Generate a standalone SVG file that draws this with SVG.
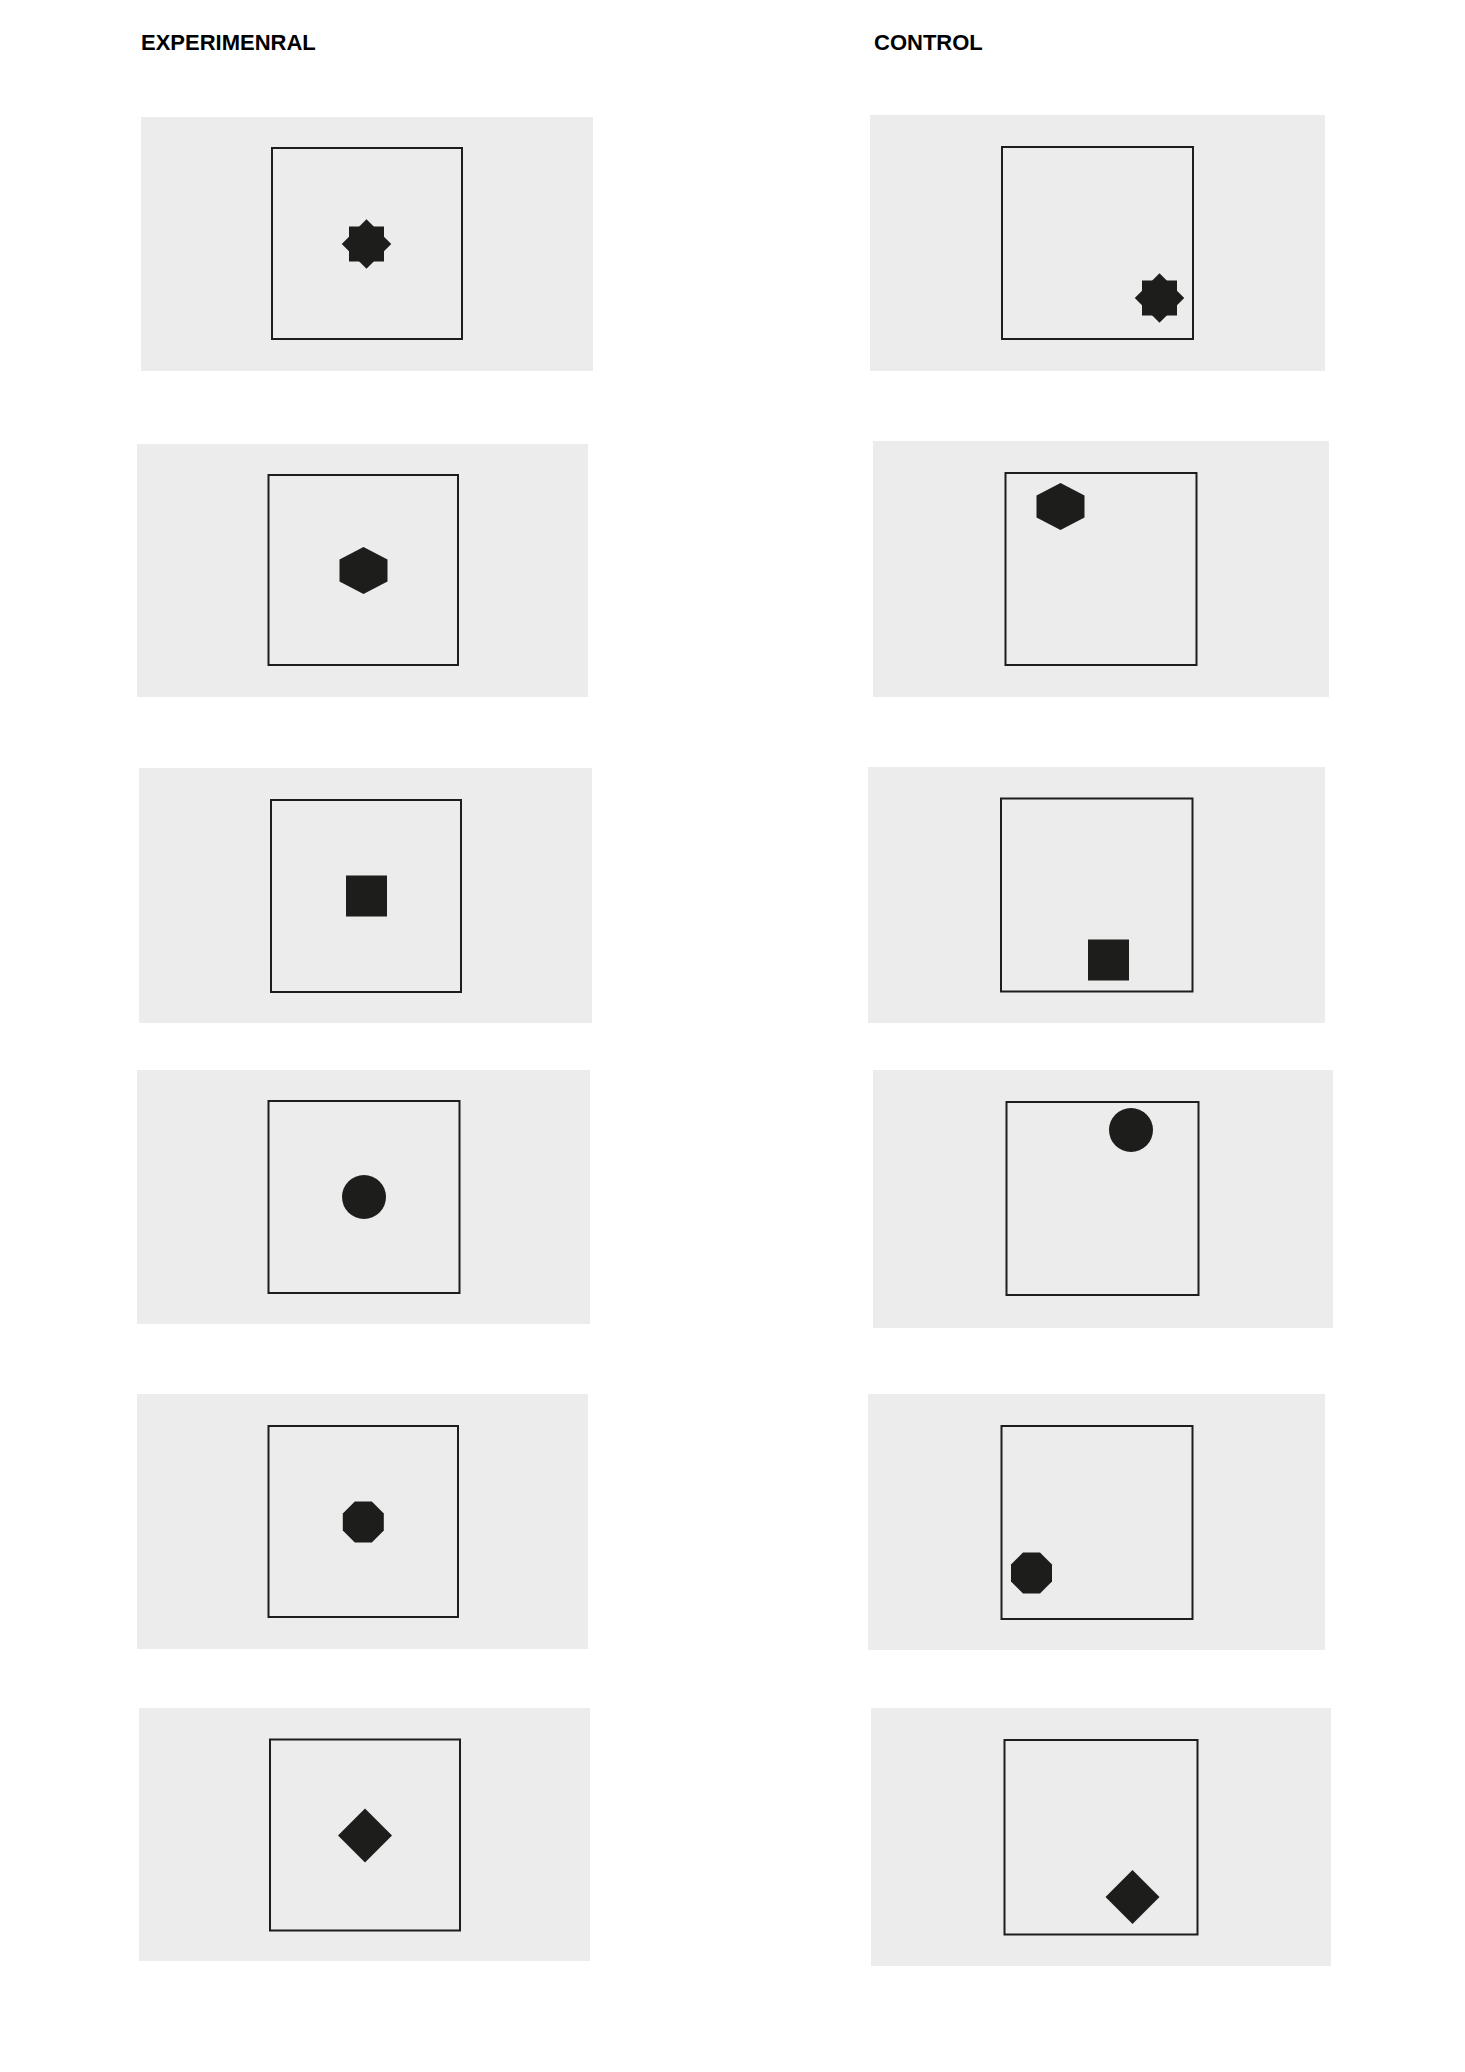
<svg xmlns="http://www.w3.org/2000/svg" xmlns:xlink="http://www.w3.org/1999/xlink" width="1465" height="2072" viewBox="0 0 1465 2072">
<style>
.bg{fill:#ececec;stroke:none}
.frame{fill:none;stroke:#1d1d1b;stroke-width:2}
.mark{fill:#1d1d1b;stroke:none}
.title{font-family:"Liberation Sans",Arial,sans-serif;font-weight:bold;font-size:22px;fill:#000}
</style>
<defs>
<g id="star" class="mark"><rect x="-17.5" y="-17.5" width="35" height="35"/><rect x="-17.5" y="-17.5" width="35" height="35" transform="rotate(45)"/></g>
<polygon id="hex" class="mark" points="0,-23.5 24,-11 24,11 0,23.5 -24,11 -24,-11"/>
<rect id="sqr" class="mark" x="-20.5" y="-20.5" width="41" height="41"/>
<circle id="circ" class="mark" r="22"/>
<polygon id="oct" class="mark" points="-8.5,-20.5 8.5,-20.5 20.5,-8.5 20.5,8.5 8.5,20.5 -8.5,20.5 -20.5,8.5 -20.5,-8.5"/>
<polygon id="diam" class="mark" points="0,-27 27,0 0,27 -27,0"/>
</defs>
<rect width="1465" height="2072" fill="#ffffff"/>
<text class="title" x="141" y="50">EXPERIMENRAL</text>
<text class="title" x="874" y="50">CONTROL</text>

<g id="exp-1"><rect class="bg" x="141" y="117" width="452" height="254"/><rect class="frame" x="272" y="148" width="190" height="191"/><use xlink:href="#star" x="366.5" y="244"/></g>
<g id="ctl-1"><rect class="bg" x="870" y="115" width="455" height="256"/><rect class="frame" x="1002" y="147" width="191" height="192"/><use xlink:href="#star" x="1159.5" y="298"/></g>

<g id="exp-2"><rect class="bg" x="137" y="444" width="451" height="253"/><rect class="frame" x="268.5" y="475" width="189.5" height="190"/><use xlink:href="#hex" x="363.5" y="570.5"/></g>
<g id="ctl-2"><rect class="bg" x="873" y="441" width="456" height="256"/><rect class="frame" x="1005.5" y="473" width="191" height="192"/><use xlink:href="#hex" x="1060.5" y="506.5"/></g>

<g id="exp-3"><rect class="bg" x="139" y="768" width="453" height="255"/><rect class="frame" x="271" y="800" width="190" height="192"/><use xlink:href="#sqr" x="366.5" y="896"/></g>
<g id="ctl-3"><rect class="bg" x="868" y="767" width="457" height="256"/><rect class="frame" x="1001" y="798.5" width="191.5" height="193"/><use xlink:href="#sqr" x="1108.5" y="960"/></g>

<g id="exp-4"><rect class="bg" x="137" y="1070" width="453" height="254"/><rect class="frame" x="268.5" y="1101" width="191" height="192"/><use xlink:href="#circ" x="364" y="1197"/></g>
<g id="ctl-4"><rect class="bg" x="873" y="1070" width="460" height="258"/><rect class="frame" x="1006.5" y="1102" width="192" height="193"/><use xlink:href="#circ" x="1131" y="1130"/></g>

<g id="exp-5"><rect class="bg" x="137" y="1394" width="451" height="255"/><rect class="frame" x="268.5" y="1426" width="189.5" height="191"/><use xlink:href="#oct" x="363.3" y="1522"/></g>
<g id="ctl-5"><rect class="bg" x="868" y="1394" width="457" height="256"/><rect class="frame" x="1001.5" y="1426" width="191" height="193"/><use xlink:href="#oct" x="1031.5" y="1573"/></g>

<g id="exp-6"><rect class="bg" x="139" y="1708" width="451" height="253"/><rect class="frame" x="270" y="1739.5" width="190" height="191"/><use xlink:href="#diam" x="365" y="1835.5"/></g>
<g id="ctl-6"><rect class="bg" x="871" y="1708" width="460" height="258"/><rect class="frame" x="1004.5" y="1740" width="193" height="194.5"/><use xlink:href="#diam" x="1132.5" y="1897"/></g>
</svg>
